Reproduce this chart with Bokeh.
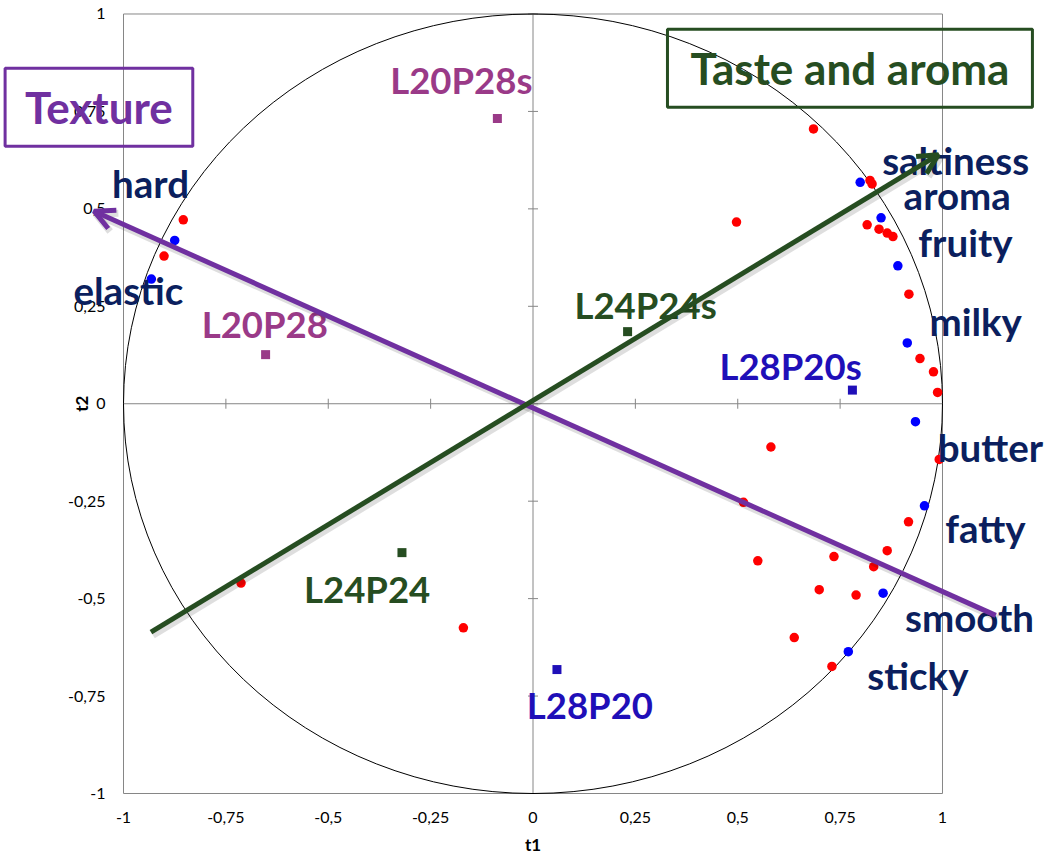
import math
from bokeh.plotting import figure
from bokeh.models import ColumnDataSource, Label, Arrow, OpenHead, Range1d
from bokeh.core.properties import value
from bokeh.embed import file_html
from bokeh.resources import INLINE

# ---------------- data ----------------
tick_values = [-1, -0.75, -0.5, -0.25, 0, 0.25, 0.5, 0.75, 1]
tick_labels = ["-1", "-0,75", "-0,5", "-0,25", "0", "0,25", "0,5", "0,75", "1"]
axis_titles = ["t1", "t2"]

# consumer / panel loadings (red) and attribute loadings (blue)
red_x = [-0.854, -0.901, 0.685, 0.823, 0.828, 0.497, 0.816, 0.845, 0.865, 0.879,
         0.918, 0.945, 0.978, 0.988, 0.581, 0.992, 0.514, 0.917, 0.865, 0.735,
         0.549, 0.832, 0.699, 0.789, 0.638, 0.730, -0.713, -0.170]
red_y = [0.472, 0.379, 0.705, 0.573, 0.564, 0.466, 0.459, 0.448, 0.438, 0.429,
         0.281, 0.116, 0.082, 0.029, -0.111, -0.143, -0.253, -0.303, -0.377, -0.392,
         -0.403, -0.418, -0.477, -0.491, -0.600, -0.674, -0.460, -0.575]

blue_x = [-0.875, -0.932, 0.799, 0.850, 0.891, 0.914, 0.934, 0.956, 0.855, 0.770]
blue_y = [0.419, 0.320, 0.568, 0.477, 0.354, 0.156, -0.046, -0.262, -0.486, -0.636]

# attribute names and their label anchors
attr_names = ["hard", "elastic", "saltiness", "aroma", "fruity", "milky",
              "butter", "fatty", "smooth", "sticky"]
attr_label_x = [-0.934, -0.988, 1.032, 1.036, 1.056, 1.081, 1.117, 1.105, 1.066, 0.940]
attr_label_y = [0.530, 0.256, 0.590, 0.500, 0.380, 0.177, -0.146, -0.355, -0.582, -0.731]

# products
product_names = ["L20P28s", "L20P28", "L24P24s", "L24P24", "L28P20s", "L28P20"]
product_group = ["L20P28", "L20P28", "L24P24", "L24P24", "L28P20", "L28P20"]
product_x = [-0.087, -0.653, 0.231, -0.320, 0.780, 0.0585]
product_y = [0.732, 0.126, 0.185, -0.382, 0.035, -0.682]
product_label_x = [-0.175, -0.655, 0.275, -0.405, 0.629, 0.139]
product_label_y = [0.795, 0.169, 0.218, -0.512, 0.060, -0.808]

# direction arrows and their boxed titles
arrow_names = ["Texture", "Taste and aroma"]
arrow_x_start = [1.130, -0.933]
arrow_y_start = [-0.543, -0.586]
arrow_x_end = [-1.072, 0.990]
arrow_y_end = [0.494, 0.639]
box_x = [-1.060, 0.774]
box_y = [0.761, 0.861]

# ---------------- styles / layout ----------------
GRAY = "#868686"
NAVY = "#0B1F5E"
PURPLE = "#7030A0"
DGREEN = "#264D21"
group_colors = {"L20P28": "#9A3A88", "L24P24": DGREEN, "L28P20": "#1F0FB8"}
arrow_colors = [PURPLE, DGREEN]
box_pad_x = [20, 23]
FONT = "Lato"
W, H = 1046, 857
# view window (the plot area [-1,1] sits inside, with room for outside labels)
VIEW_X = (-1.3004, 1.2540)
VIEW_Y = (-1.1642, 1.0346)
PX_X = (VIEW_X[1] - VIEW_X[0]) / W   # data units per pixel
PX_Y = (VIEW_Y[1] - VIEW_Y[0]) / H
SHADOW_DX, SHADOW_DY = 2 * PX_X, -3 * PX_Y

p = figure(width=W, height=H, x_range=Range1d(*VIEW_X), y_range=Range1d(*VIEW_Y),
           output_backend="svg", toolbar_location=None,
           x_axis_location=None, y_axis_location=None, min_border=0)
p.grid.visible = False
p.outline_line_color = None
p.background_fill_color = "white"
p.border_fill_color = "white"

lo, hi = min(tick_values), max(tick_values)
n = len(tick_values)

# plot-area border
p.rect(x=[(lo + hi) / 2], y=[(lo + hi) / 2], width=[hi - lo], height=[hi - lo],
       fill_color=None, line_color=GRAY, line_width=1)
# zero axes with cross ticks
p.segment(x0=[lo, 0], y0=[0, lo], x1=[hi, 0], y1=[0, hi], line_color=GRAY, line_width=1)
p.scatter(x=tick_values, y=[0] * n, marker="dash", size=10,
          angle=math.pi / 2, line_color=GRAY, line_width=1)
p.scatter(x=[0] * n, y=tick_values, marker="dash", size=10,
          line_color=GRAY, line_width=1)

# tick labels and axis titles
tick_font = dict(text_font=value(FONT), text_font_size="16px", text_color="black")
p.text(x=[lo] * n, y=tick_values, text=tick_labels, text_align="right",
       text_baseline="middle", x_offset=-18, **tick_font)
p.text(x=tick_values, y=[lo] * n, text=tick_labels, text_align="center",
       text_baseline="middle", y_offset=24, **tick_font)
title_font = dict(text_font=value(FONT), text_font_size="17px",
                  text_font_style="bold", text_color="black",
                  text_align="center", text_baseline="middle")
p.text(x=[0], y=[lo], text=[axis_titles[0]], y_offset=51, **title_font)
p.text(x=[lo], y=[0], text=[axis_titles[1]], x_offset=-42, angle=math.pi / 2, **title_font)

# correlation circle
p.ellipse(x=[0], y=[0], width=[hi - lo], height=[hi - lo], fill_color=None,
          line_color="black", line_width=1)

# points
p.scatter(red_x, red_y, marker="circle", size=9.5, fill_color="#FF0000", line_color=None)
p.scatter(blue_x, blue_y, marker="circle", size=9.5, fill_color="#0000FF", line_color=None)
prod_src = ColumnDataSource(dict(
    x=product_x, y=product_y, lx=product_label_x, ly=product_label_y,
    name=product_names, color=[group_colors[g] for g in product_group]))
p.scatter("x", "y", source=prod_src, marker="square", size=9, fill_color="color",
          line_color=None)

# labels
label_font = dict(text_font=value(FONT), text_font_style="bold",
                  text_align="center", text_baseline="alphabetic", y_offset=-14)
p.text(x=attr_label_x, y=attr_label_y, text=attr_names, text_color=NAVY,
       text_font_size="38.5px", **label_font)
p.text(x="lx", y="ly", text="name", source=prod_src, text_color="color",
       text_font_size="36.5px", **label_font)

# boxed titles
for i, name in enumerate(arrow_names):
    p.add_layout(Label(x=box_x[i], y=box_y[i], text=name,
                       text_font=FONT, text_font_style="bold", text_font_size="44px",
                       text_color=arrow_colors[i], text_align="center",
                       text_baseline="middle",
                       border_line_color=arrow_colors[i], border_line_width=3,
                       background_fill_color=None,
                       padding=dict(left=box_pad_x[i], right=box_pad_x[i],
                                    top=13, bottom=13)))

# arrows (soft drop shadow first, then the arrow itself)
for i in range(len(arrow_names)):
    p.add_layout(Arrow(x_start=arrow_x_start[i] + SHADOW_DX,
                       y_start=arrow_y_start[i] + SHADOW_DY,
                       x_end=arrow_x_end[i] + SHADOW_DX, y_end=arrow_y_end[i] + SHADOW_DY,
                       line_color="black", line_alpha=0.13, line_width=7,
                       end=OpenHead(size=20, line_color="black", line_alpha=0.13,
                                    line_width=7)))
for i in range(len(arrow_names)):
    p.add_layout(Arrow(x_start=arrow_x_start[i], y_start=arrow_y_start[i],
                       x_end=arrow_x_end[i], y_end=arrow_y_end[i],
                       line_color=arrow_colors[i], line_width=5,
                       end=OpenHead(size=20, line_color=arrow_colors[i], line_width=5)))

open("out.html", "w").write(file_html(p, INLINE))
